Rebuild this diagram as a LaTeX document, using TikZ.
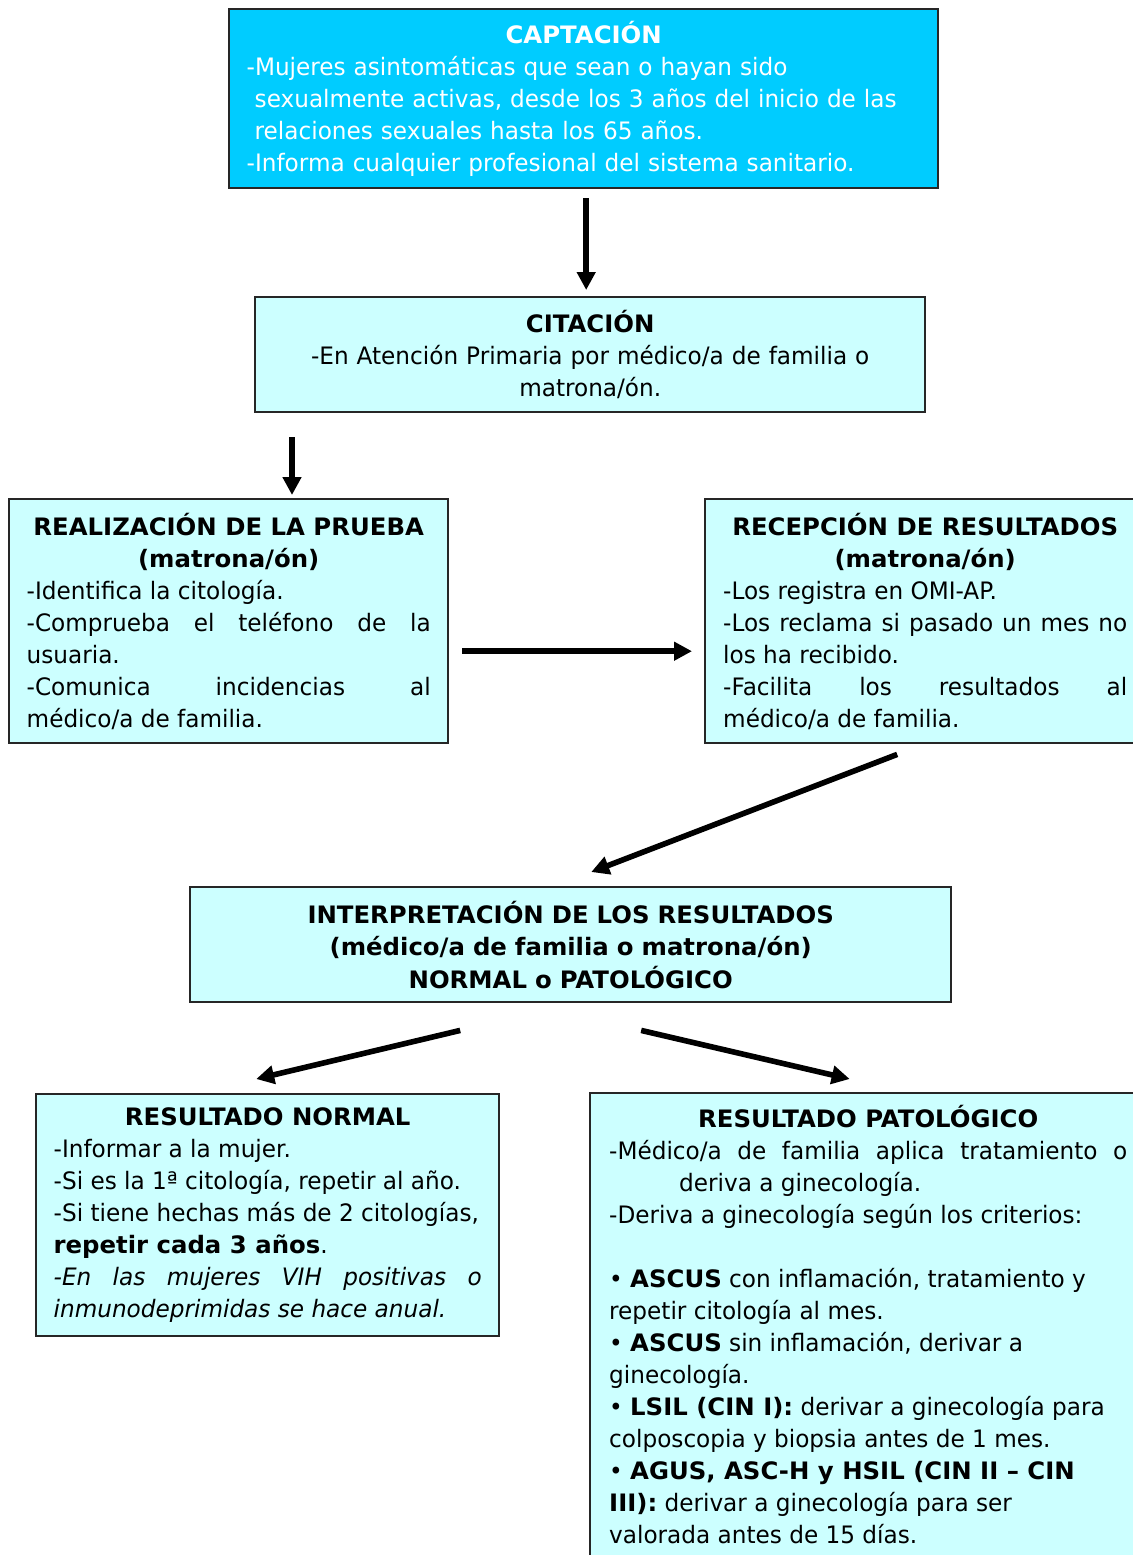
\documentclass[tikz,border=0pt]{standalone}
\usepackage{fontspec}
\setmainfont{DejaVu Sans}[UprightFeatures={FakeStretch=0.965},
    ItalicFeatures={FakeStretch=0.965},BoldFeatures={FakeStretch=1.015}]
\usetikzlibrary{arrows.meta,calc}
\definecolor{cyanfuerte}{HTML}{00CCFF}
\definecolor{cyanclaro}{HTML}{CCFFFF}
\newcommand{\titulo}[1]{\makebox[\linewidth][c]{\bfseries #1}\\}

\begin{document}
\begin{tikzpicture}[x=0.5pt,y=-0.5pt,
        caja/.style={draw=black!85,line width=1.2pt,fill=cyanclaro,anchor=north west,
                     inner xsep=8.75pt,inner ysep=0pt,font=\fontsize{12}{16}\selectfont},
        flecha/.style={-{Triangle[length=9pt,width=9pt]},line width=2.8pt}]

    \useasboundingbox (0,0) rectangle (1133,1555);
    \clip (0,0) rectangle (1133,1555);

    \node[caja,fill=cyanfuerte,text=white,align=left,text width=337pt,
          minimum width=354.5pt,minimum height=89.5pt] (capt) at (228,8)
        {\titulo{CAPTACIÓN}
         -Mujeres asintomáticas que sean o hayan sido\\
         \hspace*{4pt}sexualmente activas, desde los 3 años del inicio de las\\
         \hspace*{4pt}relaciones sexuales hasta los 65 años.\\
         -Informa cualquier profesional del sistema sanitario.};

    \node[caja,align=center,text width=317pt,
          minimum width=335pt,minimum height=57.5pt] (cita) at (254,296)
        {\textbf{CITACIÓN}\\
         -En Atención Primaria por médico/a de familia o\\
         matrona/ón.};

    \node[caja,align=justify,text width=202pt,
          minimum width=219.5pt,minimum height=122pt] (real) at (8,498)
        {\titulo{REALIZACIÓN DE LA PRUEBA}
         \titulo{(matrona/ón)}
         -Identifica la citología.\\
         -Comprueba el teléfono de la\linebreak usuaria.\\
         -Comunica incidencias al\linebreak médico/a de familia.};

    \node[caja,align=justify,text width=202pt,
          minimum width=220pt,minimum height=122pt] (recep) at (704,498)
        {\titulo{RECEPCIÓN DE RESULTADOS}
         \titulo{(matrona/ón)}
         -Los registra en OMI-AP.\\
         -Los reclama si pasado un mes no\linebreak los ha recibido.\\
         -Facilita los resultados al\linebreak médico/a de familia.};

    \node[caja,align=center,text width=350pt,font=\fontsize{12}{16.25}\selectfont\bfseries,
          minimum width=380.5pt,minimum height=57.5pt] (interp) at (189,886)
        {INTERPRETACIÓN DE LOS RESULTADOS\\
         (médico/a de familia o matrona/ón)\\
         NORMAL o PATOLÓGICO};

    \node[caja,align=justify,text width=214pt,
          minimum width=231.5pt,minimum height=121pt] (norm) at (35,1093)
        {\titulo{RESULTADO NORMAL}
         -Informar a la mujer.\\
         -Si es la 1ª citología, repetir al año.\\
         -Si tiene hechas más de 2 citologías,\\
         \textbf{repetir cada 3 años}.\\
         \textit{-En las mujeres VIH positivas o\linebreak inmunodeprimidas se hace anual.}};

    \node[caja,align=justify,text width=259pt,inner xsep=9.5pt,
          minimum width=278pt,minimum height=235.5pt] (pato) at (589,1092)
        {\titulo{RESULTADO PATOLÓGICO}
         -Médico/a de familia aplica tratamiento o\linebreak
         \hspace*{35pt}deriva a ginecología.\\
         -Deriva a ginecología según los criterios:\\
         \mbox{}\\
         • \textbf{ASCUS} con inflamación, tratamiento y\\
         repetir citología al mes.\\
         • \textbf{ASCUS} sin inflamación, derivar a\\
         ginecología.\\
         • \textbf{LSIL (CIN I):} derivar a ginecología para\\
         colposcopia y biopsia antes de 1 mes.\\
         • \textbf{AGUS, ASC-H y HSIL (CIN II – CIN}\\
         \textbf{III):} derivar a ginecología para ser\\
         valorada antes de 15 días.\rule[-4pt]{0pt}{4pt}};

    \draw[flecha] ($(capt.south)+(2.5,9)$) -- ($(cita.north)+(-4,-6)$);
    \draw[flecha] ($(cita.south west)+(38,24)$) -- ($(real.north west)+(284,-3)$);
    \draw[flecha] ($(real.east)+(13,30)$) -- ($(recep.west)+(-12,30)$);
    \draw[flecha] ($(recep.south)+(-28,10)$) -- ($(interp.north)+(20.5,-14)$);
    \draw[flecha] ($(interp.south)+(-110.5,27)$) -- ($(norm.north)+(-11.5,-14)$);
    \draw[flecha] ($(interp.south)+(70.5,27)$) -- ($(pato.north)+(-18.5,-13)$);
\end{tikzpicture}
\end{document}
